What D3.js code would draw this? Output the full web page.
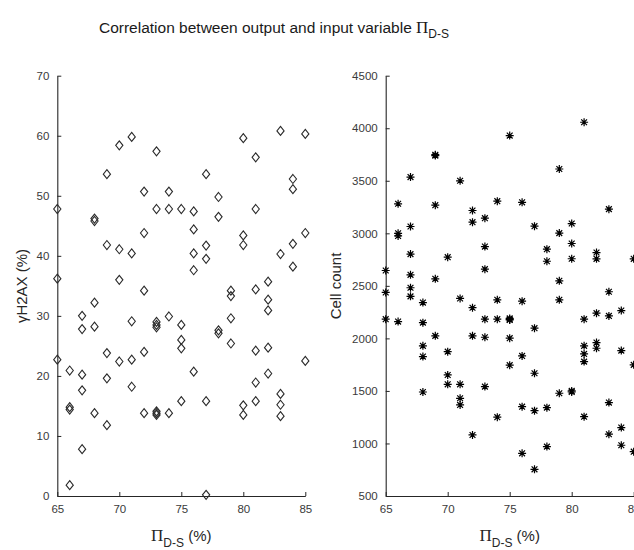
<!DOCTYPE html>
<html>
<head>
<meta charset="utf-8">
<script src="https://cdn.jsdelivr.net/npm/d3@7"></script>
<style>
  html, body { margin: 0; padding: 0; background: #fff; overflow: hidden; }
  svg { display: block; }
  text { font-family: "Liberation Sans", Arial, Helvetica, sans-serif; }
</style>
</head>
<body>
<div id="chart"></div>
<script>
// ---------------- DATA ----------------
// Left panel: gammaH2AX (%) vs Pi_D-S (%)
const h2axX = [
  65,65,65,
  66,66,66,66,
  67,67,67,67,67,
  68,68,68,68,68,
  69,69,69,69,69,
  70,70,70,70,
  71,71,71,71,71,
  72,72,72,72,72,
  73,73,73,73,73,73,73,73,
  74,74,74,74,
  75,75,75,75,75,
  76,76,76,76,76,
  77,77,77,77,77,
  78,78,78,78,
  79,79,79,79,
  80,80,80,80,80,
  81,81,81,81,81,81,
  82,82,82,82,82,
  83,83,83,83,83,
  84,84,84,84,
  85,85,85
];
const h2axY = [
  47.8,36.2,22.7,
  20.9,14.8,14.4,1.8,
  30.0,27.8,20.2,17.6,7.8,
  46.2,45.8,32.2,28.2,13.8,
  53.6,41.8,23.8,19.6,11.8,
  58.4,41.1,36.0,22.4,
  59.8,40.4,29.1,22.7,18.2,
  50.7,43.8,34.2,24.0,13.8,
  57.4,47.8,29.0,28.5,28.1,14.1,13.8,13.5,
  50.7,47.8,29.9,13.8,
  47.8,28.5,26.0,24.6,15.8,
  47.4,44.4,40.4,37.6,20.7,
  53.6,41.7,39.5,15.8,0.2,
  49.8,46.5,27.6,27.1,
  34.2,33.3,29.6,25.4,
  59.6,43.4,41.8,15.1,13.5,
  56.4,47.8,34.4,24.2,18.9,15.8,
  35.7,32.7,30.9,24.7,20.4,
  60.8,40.3,17.0,15.2,13.3,
  52.8,51.1,42.0,38.2,
  60.3,43.8,22.5
];

// Right panel: Cell count vs Pi_D-S (%)
const cellX = [
  65,65,65,
  66,66,66,66,
  67,67,67,67,67,67,
  68,68,68,68,68,
  69,69,69,69,69,
  70,70,70,70,
  71,71,71,71,71,
  72,72,72,72,72,
  73,73,73,73,73,73,
  74,74,74,74,
  75,75,75,75,75,75,
  76,76,76,76,76,
  77,77,77,77,77,
  78,78,78,78,
  79,79,79,79,79,
  80,80,80,80,80,
  81,81,81,81,81,81,
  82,82,82,82,82,
  83,83,83,83,83,
  84,84,84,84,
  85,85,85
];
const cellY = [
  2646,2437,2183,
  3281,3000,2975,2160,
  3535,3065,2802,2605,2482,2400,
  2341,2150,1929,1827,1490,
  3748,3740,3268,2567,2024,
  2773,1874,1652,1563,
  3500,2380,1563,1430,1367,
  3217,3106,2292,2024,1081,
  3144,2874,2659,2183,2011,1541,
  3306,2367,2183,1250,
  3930,2190,2180,2175,2002,1745,
  3295,2354,1833,1350,906,
  3068,2097,1668,1312,754,
  2849,2734,1341,970,
  3612,3002,2548,2367,1478,
  3093,2903,2758,1500,1490,
  4057,2183,1929,1852,1779,1255,
  2817,2757,2240,1960,1906,
  3230,2444,2214,1389,1088,
  2265,1884,1151,983,
  2757,1748,922
];

const xTicks = [65, 70, 75, 80, 85];
const h2axTicks = [0, 10, 20, 30, 40, 50, 60, 70];
const cellTicks = [500, 1000, 1500, 2000, 2500, 3000, 3500, 4000, 4500];

const titleText = "Correlation between output and input variable ";
const piSymbol = "\u03A0";
const piSub = "D-S";
const leftYLabel = "\u03B3H2AX (%)";
const rightYLabel = "Cell count";

// ---------------- LAYOUT ----------------
const W = 634, H = 550;
const axisColor = "#262626";
const tickColor = "#3a3a3a";

const svg = d3.select("#chart").append("svg")
  .attr("width", W).attr("height", H);

// Title
const title = svg.append("text")
  .attr("x", 274).attr("y", 33)
  .attr("text-anchor", "middle")
  .attr("font-size", 15.5)
  .attr("fill", "#1a1a1a");
title.append("tspan").text(titleText);
title.append("tspan").attr("font-family", "'Liberation Serif', 'DejaVu Serif', serif")
  .attr("font-size", 17).text(piSymbol);
title.append("tspan").attr("dy", 5).attr("font-size", 12).text(piSub);

function panel(cfg) {
  const g = svg.append("g");
  const x = d3.scaleLinear().domain([65, 85]).range([cfg.x0, cfg.x0 + 248]);
  const y = d3.scaleLinear().domain(cfg.yDomain).range([496, 75.7]);

  // axes
  const xAxis = d3.axisBottom(x).tickValues(xTicks).tickFormat(d3.format("d"))
    .tickSizeInner(-4).tickSizeOuter(0).tickPadding(9);
  const yAxis = d3.axisLeft(y).tickValues(cfg.yTicks).tickFormat(d3.format("d"))
    .tickSizeInner(-4).tickSizeOuter(0).tickPadding(8);

  const gx = g.append("g").attr("transform", `translate(0,496)`).call(xAxis);
  const gy = g.append("g").attr("transform", `translate(${cfg.x0},0)`).call(yAxis);
  [gx, gy].forEach(a => {
    a.select(".domain").attr("stroke", axisColor).attr("stroke-width", 1.1);
    a.selectAll(".tick line").attr("stroke", axisColor).attr("stroke-width", 1);
    a.selectAll(".tick text").attr("fill", tickColor).attr("font-size", 11.5)
      .attr("font-family", "'Liberation Sans', Arial, sans-serif");
  });

  // marks
  const pts = cfg.xs.map((v, i) => [v, cfg.ys[i]]);
  if (cfg.marker === "diamond") {
    g.append("g").selectAll("path").data(pts).join("path")
      .attr("d", d => {
        const cx = x(d[0]), cy = y(d[1]);
        return `M${cx},${cy - 4.5}L${cx + 3.6},${cy}L${cx},${cy + 4.5}L${cx - 3.6},${cy}Z`;
      })
      .attr("fill", "none").attr("stroke", "#2a2a2a").attr("stroke-width", 1.1);
  } else {
    g.append("g").selectAll("path").data(pts).join("path")
      .attr("d", d => {
        const cx = x(d[0]), cy = y(d[1]), r = 4, q = 2.9;
        return `M${cx - r},${cy}L${cx + r},${cy}M${cx},${cy - r}L${cx},${cy + r}` +
               `M${cx - q},${cy - q}L${cx + q},${cy + q}M${cx - q},${cy + q}L${cx + q},${cy - q}`;
      })
      .attr("fill", "none").attr("stroke", "#000").attr("stroke-width", 1.2);
  }

  // x label
  const xl = g.append("text")
    .attr("x", cfg.x0 + 124).attr("y", 541)
    .attr("text-anchor", "middle").attr("font-size", 15).attr("fill", "#262626");
  xl.append("tspan").attr("font-family", "'Liberation Serif', 'DejaVu Serif', serif")
    .attr("font-size", 17).text(piSymbol);
  xl.append("tspan").attr("dy", 6).attr("font-size", 12).text(piSub);
  xl.append("tspan").attr("dy", -6).text(" (%)");

  // y label
  g.append("text")
    .attr("transform", `translate(${cfg.ylx},286) rotate(-90)`)
    .attr("text-anchor", "middle").attr("font-size", 15).attr("fill", "#262626")
    .text(cfg.ylabel);
}

panel({ x0: 57.3, yDomain: [0, 70], yTicks: h2axTicks, xs: h2axX, ys: h2axY,
        marker: "diamond", ylabel: leftYLabel, ylx: 27 });
panel({ x0: 385.7, yDomain: [500, 4500], yTicks: cellTicks, xs: cellX, ys: cellY,
        marker: "star", ylabel: rightYLabel, ylx: 341 });
</script>
</body>
</html>
